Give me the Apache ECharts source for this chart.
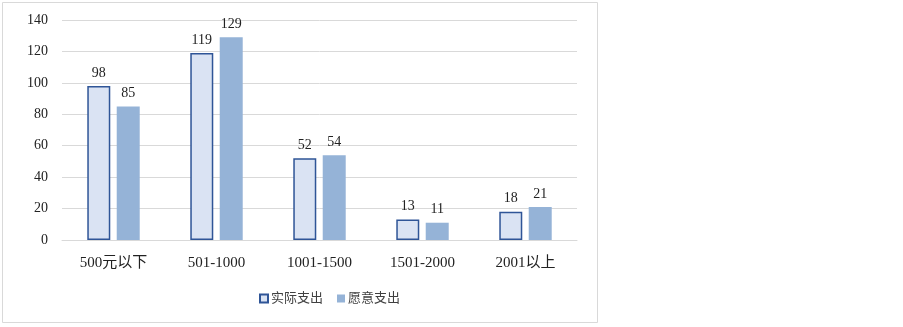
<!DOCTYPE html>
<html>
<head>
<meta charset="utf-8">
<script src="https://cdn.jsdelivr.net/npm/echarts@6/dist/echarts.min.js"></script>
<style>
  html, body { margin: 0; padding: 0; background: #fff; }
  #chart { width: 903px; height: 327px; }
</style>
</head>
<body>
<div id="chart"></div>
<script>
const categories = ['500元以下', '501-1000', '1001-1500', '1501-2000', '2001以上']
const actualSpend = [98, 119, 52, 13, 18]
const willingSpend = [85, 129, 54, 11, 21]
const yTicks = { min: 0, max: 140, interval: 20 }

const serif = '"Liberation Serif", "DejaVu Serif", "Noto Sans CJK SC", serif'

const chart = echarts.init(document.getElementById('chart'))
const option = {
  backgroundColor: '#fff',
  animation: false,
  textStyle: { fontFamily: serif },
  graphic: [
    {
      type: 'rect',
      shape: { x: 2.5, y: 2.5, width: 595, height: 320 },
      style: { fill: 'none', stroke: '#d9d9d9', lineWidth: 1 },
      silent: true
    }
  ],
  grid: { left: 62, right: 326, top: 20, bottom: 87 },
  legend: {
    bottom: 17,
    left: 254,
    itemWidth: 8,
    itemHeight: 8,
    itemGap: 14,
    icon: 'rect',
    textStyle: { fontSize: 13, color: '#404040', fontFamily: serif, padding: [0, 0, 0, -2] },
    data: ['实际支出', '愿意支出']
  },
  xAxis: {
    type: 'category',
    data: categories,
    axisLine: { lineStyle: { color: '#d9d9d9' } },
    axisTick: { show: false },
    axisLabel: { fontSize: 15, color: '#222', margin: 16, fontFamily: serif }
  },
  yAxis: {
    type: 'value',
    min: yTicks.min,
    max: yTicks.max,
    interval: yTicks.interval,
    axisLine: { show: false },
    axisTick: { show: false },
    axisLabel: { fontSize: 14, color: '#222', margin: 14, fontFamily: serif },
    splitLine: { lineStyle: { color: '#d9d9d9' } }
  },
  series: [
    {
      name: '实际支出',
      type: 'bar',
      data: actualSpend,
      barWidth: 23,
      barGap: '28%',
      itemStyle: { color: '#dae3f3', borderColor: '#2f5597', borderWidth: 1.5 },
      label: { show: true, position: 'top', distance: 6, fontSize: 14, color: '#222', fontFamily: serif }
    },
    {
      name: '愿意支出',
      type: 'bar',
      data: willingSpend,
      barWidth: 23,
      itemStyle: { color: '#95b3d7' },
      label: { show: true, position: 'top', distance: 6, fontSize: 14, color: '#222', fontFamily: serif }
    }
  ]
}
chart.setOption(option)
</script>
</body>
</html>
